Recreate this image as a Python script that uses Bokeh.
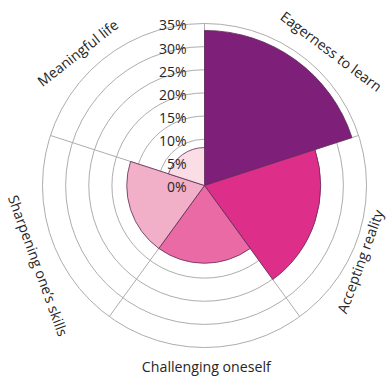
import numpy as np
from bokeh.plotting import figure
from bokeh.models import ColumnDataSource, Range1d
from bokeh.core.properties import value
from bokeh.embed import file_html
from bokeh.resources import INLINE

# ---- data ----
categories = ["Eagerness to learn", "Accepting reality", "Challenging oneself",
              "Sharpening one\u2019s skills", "Meaningful life"]
values = [33.5, 25.1, 16.8, 16.8, 8.2]
colors = ["#7E1F7A", "#DD2E8A", "#EA6AA6", "#F2B0C8", "#FBDDE6"]
ticks = [0, 5, 10, 15, 20, 25, 30, 35]
tick_labels = ["0%", "5%", "10%", "15%", "20%", "25%", "30%", "35%"]

# ---- geometry (sectors clockwise from top) ----
n = len(categories)
step = 2 * np.pi / n
starts = [np.pi / 2 - step * (i + 1) for i in range(n)]
ends = [np.pi / 2 - step * i for i in range(n)]
src = ColumnDataSource(dict(cat=categories, val=values, color=colors,
                            start=starts, end=ends))

rmax = ticks[-1]
p = figure(width=389, height=376, output_backend="svg", toolbar_location=None,
           x_range=Range1d(-44.07, 39.96), y_range=Range1d(-41.26, 39.97),
           min_border=0)
p.axis.visible = False
p.grid.visible = False
p.outline_line_color = None
p.background_fill_color = "white"
p.border_fill_color = "white"

grid_col = "#ADADAD"
# rings
p.circle(x=[0] * (len(ticks) - 1), y=[0] * (len(ticks) - 1), radius=ticks[1:],
         fill_color=None, line_color=grid_col, line_width=1)
# spokes
bounds = [np.pi / 2 - step * i for i in range(n)]
p.segment(x0=[0] * n, y0=[0] * n,
          x1=[rmax * np.cos(a) for a in bounds], y1=[rmax * np.sin(a) for a in bounds],
          line_color=grid_col, line_width=1)

# sectors
p.wedge(x=0, y=0, radius="val", start_angle="start", end_angle="end",
        direction="anticlock", fill_color="color", line_color="#5E2A55",
        line_width=0.8, source=src)

# tick labels
p.text(x=[-3.9] * len(ticks), y=[t - 0.3 for t in ticks], text=tick_labels,
       text_align="right", text_baseline="middle", text_font=value("Open Sans"),
       text_font_size="14px", text_color="#262626")

# category labels (layout)
lab_x = [27.4, 33.6, 0.4, -35.9, -27.4]
lab_y = [29.0, -16.4, -39.0, -17.3, 28.7]
lab_a = [-37, 70, 0, -70, 38]
p.text(x=lab_x, y=lab_y, text=categories, angle=[np.deg2rad(a) for a in lab_a],
       text_align="center", text_baseline="middle", text_font=value("Open Sans"),
       text_font_size="14.2px", text_color="#262626")

open("out.html", "w").write(file_html(p, INLINE))
